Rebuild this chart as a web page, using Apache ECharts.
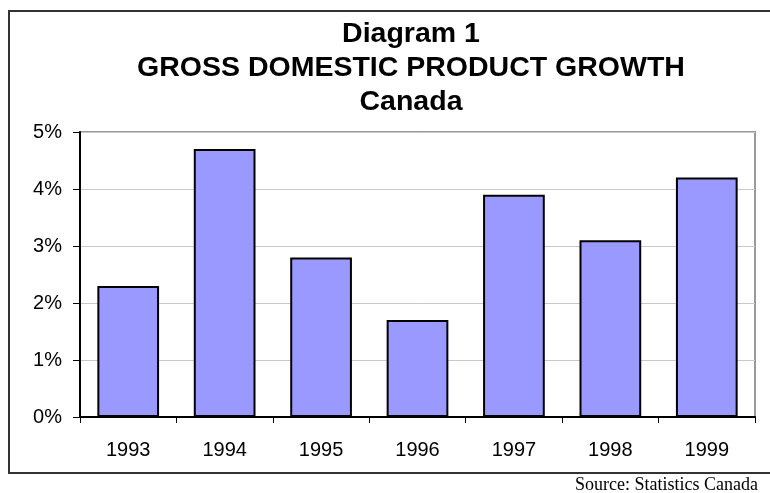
<!DOCTYPE html>
<html lang="en">
  <head>
    <meta charset="UTF-8">
    <title>GDP growth Canada</title>
    <style>
      html, body { margin: 0; padding: 0; background: #fff; }
      #chart { width: 770px; height: 493px; }
    </style>
  </head>
  <body>
    <div id="chart"></div>
    <script src="https://cdn.jsdelivr.net/npm/echarts@6/dist/echarts.min.js"></script>
    <script type="text/javascript">
      // data
      var years = ['1993', '1994', '1995', '1996', '1997', '1998', '1999'];
      var growth = [2.3, 4.7, 2.8, 1.7, 3.9, 3.1, 4.2];
      var titleLines = ['Diagram 1', 'GROSS DOMESTIC PRODUCT GROWTH', 'Canada'];
      var sourceText = 'Source: Statistics Canada';

      var myChart = echarts.init(document.getElementById('chart'));

      var option = {
        backgroundColor: '#fff',
        animation: false,
        title: [{
            text: titleLines.join('\n'),
            left: 411,
            top: 17,
            padding: 0,
            textAlign: 'center',
            textStyle: {
              fontFamily: 'Liberation Sans',
              fontSize: 28.5,
              fontWeight: 'bold',
              lineHeight: 34,
              color: '#000'
            }
          },
          {
            text: sourceText,
            right: 12,
            top: 476,
            padding: 0,
            textStyle: {
              fontFamily: 'Liberation Serif',
              fontSize: 18,
              fontWeight: 'normal',
              color: '#000'
            }
          }
        ],
        // outer frame (right side runs off the picture)
        graphic: [{
          type: 'rect',
          shape: { x: 9, y: 11, width: 800, height: 462 },
          style: { fill: 'none', stroke: '#333', lineWidth: 2 },
          silent: true
        }],
        grid: {
          left: 80,
          right: 15,
          top: 132,
          bottom: 76,
          show: true,
          borderColor: '#999',
          borderWidth: 2
        },
        xAxis: {
          type: 'category',
          data: years,
          axisLine: {
            show: true,
            lineStyle: { color: '#000', width: 2 }
          },
          axisTick: {
            show: true,
            length: 6,
            lineStyle: { color: '#000', width: 1 }
          },
          axisLabel: {
            color: '#000',
            fontFamily: 'Liberation Sans',
            fontSize: 20,
            margin: 23
          },
          splitLine: { show: false }
        },
        yAxis: {
          type: 'value',
          min: 0,
          max: 5,
          interval: 1,
          axisLine: {
            show: true,
            lineStyle: { color: '#000', width: 2 }
          },
          axisTick: {
            show: true,
            length: 7,
            lineStyle: { color: '#000', width: 1 }
          },
          axisLabel: {
            formatter: '{value}%',
            color: '#000',
            fontFamily: 'Liberation Sans',
            fontSize: 20,
            margin: 18
          },
          splitLine: {
            show: true,
            lineStyle: { color: '#c8c8c8', width: 1 }
          }
        },
        series: [{
          name: 'GDP growth',
          type: 'bar',
          data: growth,
          barWidth: '64%',
          itemStyle: {
            color: '#9999ff',
            borderColor: '#000',
            borderWidth: 2
          }
        }]
      };

      myChart.setOption(option);
    </script>
  </body>
</html>
